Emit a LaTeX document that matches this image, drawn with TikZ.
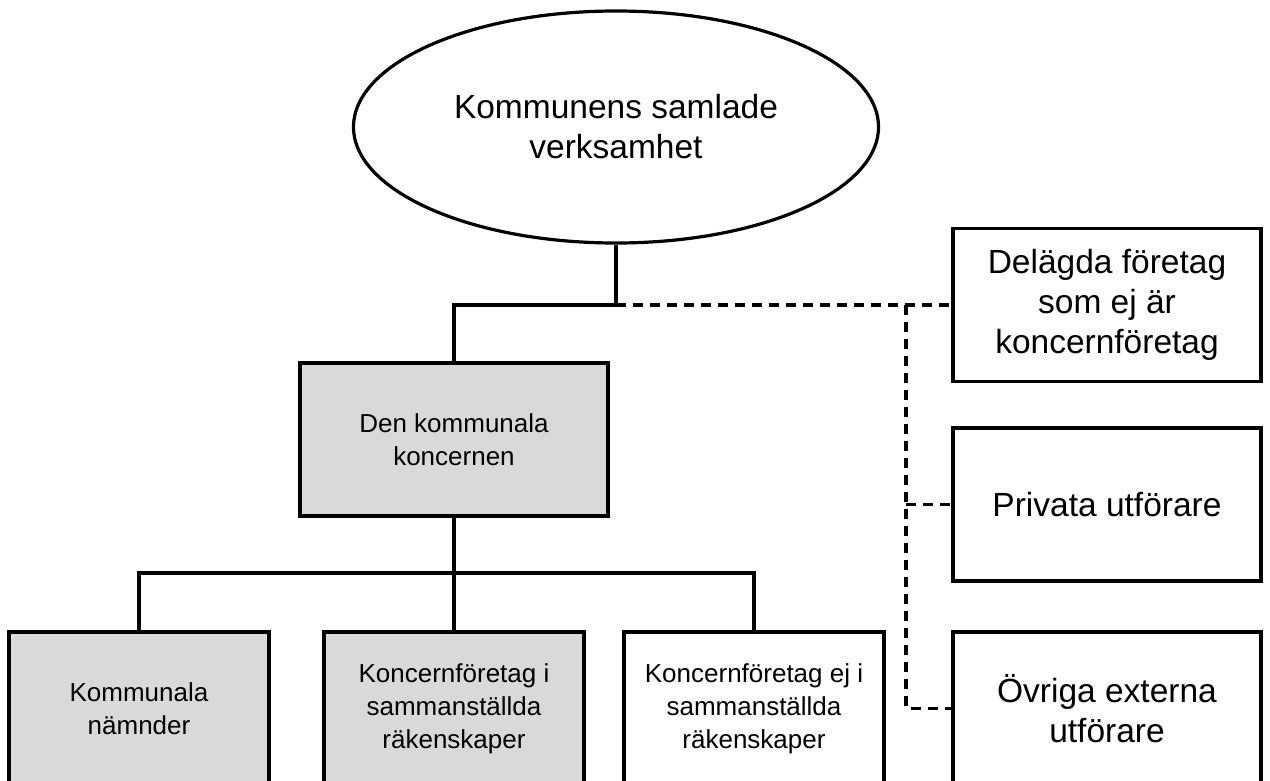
\documentclass[tikz,border=0pt]{standalone}
\usepackage{fontspec}
\setmainfont{Liberation Sans}
\usetikzlibrary{shapes.geometric}
\definecolor{boxgray}{HTML}{D9D9D9}
\tikzset{
  conn/.style={line width=3.2pt},
  dconn/.style={line width=3.2pt, dash pattern=on 10pt off 7pt},
  bigtxt/.style={font=\fontsize{33.5}{40}\selectfont, align=center},
  smalltxt/.style={font=\fontsize{26}{33}\selectfont, align=center},
  boxbase/.style={draw, line width=3.4pt, rectangle, inner sep=0pt, minimum height=153pt},
  graybox/.style={boxbase, fill=boxgray, smalltxt},
  whitebox/.style={boxbase, fill=white, smalltxt},
  extbox/.style={boxbase, fill=white, bigtxt, minimum width=308pt},
}
\begin{document}
\begin{tikzpicture}[x=1pt,y=-1pt]
\useasboundingbox (0,0) rectangle (1270,780);
\clip (0,0) rectangle (1270,780);
\fill[white] (0,0) rectangle (1270,780);
% nodes
\node[draw, ellipse, line width=3.2pt, inner sep=0pt, minimum width=525pt, minimum height=232pt, bigtxt] (E) at (616,127) {Kommunens samlade\\verksamhet};
\node[graybox, minimum width=308pt] (den) at (454,439.5) {Den kommunala\\koncernen};
\node[graybox, minimum width=260pt] (kn) at (139,708.5) {Kommunala\\nämnder};
\node[graybox, minimum width=260pt] (ki) at (454,708.5) {Koncernföretag i\\sammanställda\\räkenskaper};
\node[whitebox, minimum width=260pt] (kej) at (754,708.5) {Koncernföretag ej i\\sammanställda\\räkenskaper};
\node[extbox] (del) at (1107,305) {Delägda företag\\som ej är\\koncernföretag};
\node[extbox] (priv) at (1107,504.5) {Privata utförare};
\node[extbox] (ovr) at (1107,708.5) {Övriga externa\\utförare};
% coordinates
\coordinate (J) at (616,305);
\coordinate (V) at (906,305);
\coordinate (B) at (454,573);
% connectors
\draw[conn] (E.south) -- (J);
\draw[conn] (J) -| (den.north);
\draw[conn] (den.south) -- (B);
\draw[conn] (kn.north) |- (B) -| (kej.north);
\draw[conn] (B) -- (ki.north);
\draw[dconn] (J) -- (del.west);
\draw[dconn] (V) |- (ovr.west);
\draw[dconn] (V |- priv.west) -- (priv.west);
\end{tikzpicture}
\end{document}
